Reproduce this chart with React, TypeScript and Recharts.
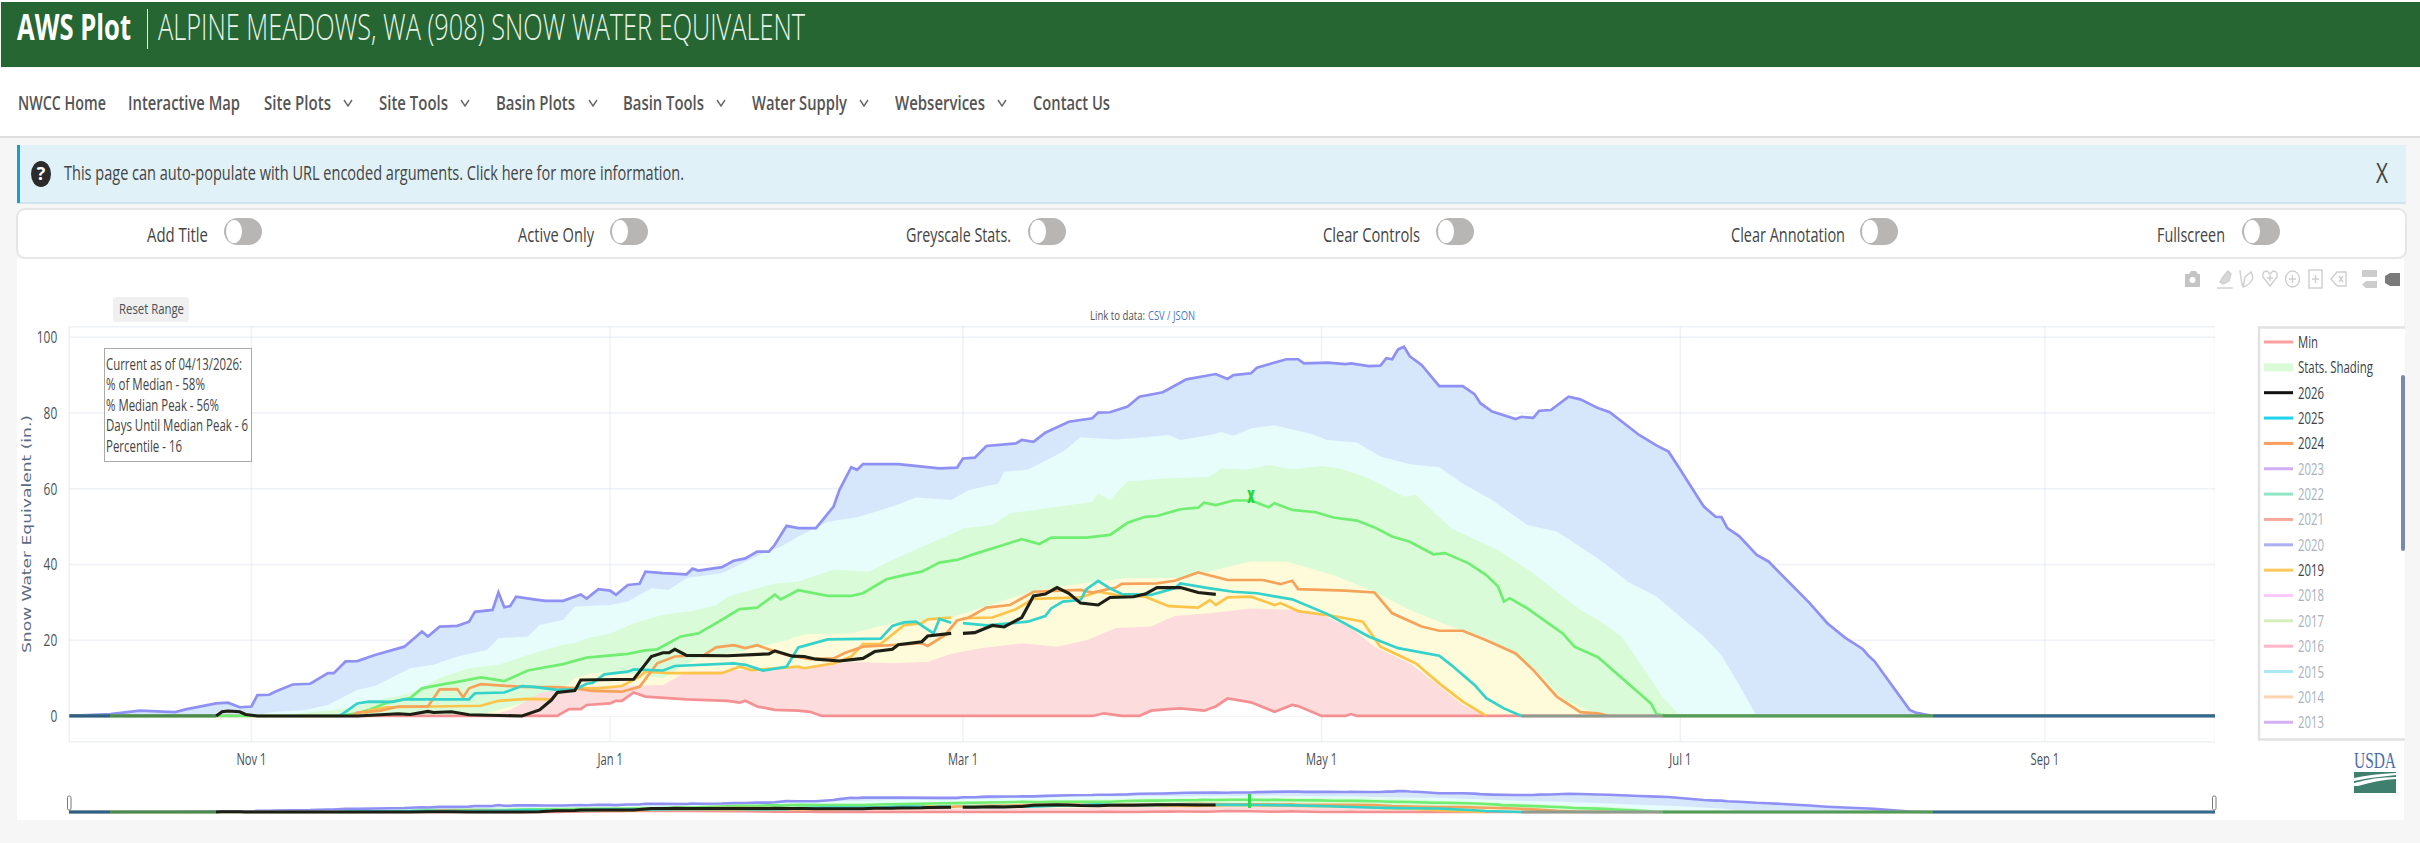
import React from "react";
import { ComposedChart, Area, Line, XAxis, YAxis, CartesianGrid, ReferenceDot } from "recharts";

type Pt = [number, number | null];

// day = days since Oct 1 (leap-year water year), value = inches of SWE
const xTickDays = [31, 92, 152, 213, 274, 336];
const xTickLabels = ["Nov 1", "Jan 1", "Mar 1", "May 1", "Jul 1", "Sep 1"];
const yTicks = [0, 20, 40, 60, 80, 100];

const maxSwe: Pt[] = [[0,0],[7,0.5],[12,1.4],[18,1],[20,1.8],[25,3.3],[27,3.5],[29,2.3],[31,2.5],[32,5.5],[34,5.6],[35,6.4],[38,8.3],[41,8.5],[44,11.3],[45,11.3],[47,14.4],[49,14.5],[52,16.1],[57,18.3],[60,22.3],[61,21],[63,23.6],[66,23.8],[68,24.9],[69,27.5],[72,28],[73,32.6],[74,28.7],[75,29],[76,31.5],[79,30.8],[81,30.4],[84,30.4],[87,32.1],[88,31],[90,33.5],[92,33.1],[93,32],[95,34.6],[97,34.9],[98,38.1],[101,37.7],[105,37.4],[106,38.9],[107,38.4],[111,39.3],[113,41],[115,41.6],[117,43.4],[119,43.4],[120,45.2],[122,50.2],[124,49.6],[127,49.6],[130,55.3],[131,59.7],[133,65.7],[134,65],[135,66.5],[141,66.5],[148,65.4],[151,65.6],[152,68],[154,68.2],[156,71.3],[161,72],[162,72.9],[164,72.4],[166,74.8],[170,77.7],[174,78.6],[175,80.1],[177,80.2],[180,81.7],[182,84.3],[186,85.5],[190,88.9],[195,90.3],[197,89],[198,90],[201,90.5],[202,92],[207,94.2],[209,94.2],[210,93.1],[214,93.3],[217,92.9],[218,93.1],[221,92.4],[223,92.5],[224,94.5],[225,94.2],[226,96.8],[227,97.5],[228,95],[230,92.7],[233,87.1],[237,87.1],[239,85],[240,82.6],[242,80.4],[246,78.4],[247,79],[249,78.7],[250,80.6],[252,80.8],[255,84.3],[257,83.6],[260,81.3],[262,80.2],[267,74.2],[270,71.4],[272,69.8],[274,65],[277,57.7],[278,55.3],[280,52.6],[281,52.5],[282,49.6],[284,47.5],[287,42.5],[289,40.8],[296,29.8],[299,24.5],[302,20.7],[305,17.7],[306,15.9],[307,14.5],[313,1.6],[314,0.9],[317,0]];
const pct90: Pt[] = [[31,0],[35,1.1],[40,1.6],[44,2.9],[49,6.9],[52,7.9],[58,12.6],[62,13.5],[66,15.7],[71,17.4],[73,20.5],[78,21],[80,24],[84,25.4],[86,28.9],[92,29.3],[95,30.2],[99,33.7],[102,33.3],[105,36.4],[111,37.7],[118,43],[121,44.7],[124,47.4],[129,51.3],[134,52.5],[140,55.3],[144,57.7],[150,57],[153,59.7],[158,61.4],[159,64.5],[163,65],[169,69.8],[172,73.6],[178,73],[183,73.6],[187,74.2],[189,72.9],[194,74.2],[196,75],[198,74],[201,76],[205,76.8],[211,74.6],[214,72.9],[219,72.2],[223,68.5],[228,66.5],[233,65.7],[237,61.4],[242,57],[248,50.4],[253,48.7],[260,41.6],[263,38],[265,35.5],[270,31.5],[274,26.2],[278,21],[281,16],[284,8.2],[287,0]];
const pct70: Pt[] = [[33,0],[37,0.3],[45,1.6],[49,2.5],[52,4],[58,6],[63,10],[68,12.6],[73,13.5],[78,16.1],[84,18.8],[86,19.2],[88,20.5],[92,21.8],[96,24.5],[101,26.7],[106,27.7],[110,29.3],[112,31.5],[117,33.7],[120,35],[124,35.5],[130,38.6],[136,38.1],[140,41.2],[145,44.7],[150,48],[152,49.6],[157,50.4],[160,53.5],[167,55],[174,56.6],[175,58.8],[177,57],[180,61.9],[183,62.3],[187,62.8],[194,63.2],[196,65.4],[200,65],[204,66.3],[208,65.1],[213,66],[216,65.4],[221,62.8],[227,57.9],[229,58.4],[235,49.6],[243,43.8],[249,37.7],[253,32.8],[257,28],[260,25.4],[264,21],[268,12.1],[271,5],[274,0]];
const pct30: Pt[] = [[66,0],[71,0.8],[78,3.8],[84,7.3],[86,10],[89,11.3],[92,11.7],[97,10.8],[101,10],[107,15.5],[114,17],[122,20],[125,21.6],[133,21.8],[140,24.5],[144,24.9],[150,26],[156,29],[164,33],[172,35],[180,36.4],[190,36.4],[195,38.6],[201,40.8],[207,40.8],[215,37.2],[222,32.8],[228,28],[235,23.6],[241,20.5],[246,15.7],[250,11.3],[254,4.7],[258,1.6],[260,0.7],[262,0]];
const pct10: Pt[] = [[71,0],[75,1.6],[77,3.3],[80,6],[85,7.7],[92,7.9],[101,8.2],[105,11.7],[112,12],[124,12.6],[133,14.3],[140,13.9],[146,14.3],[150,16.4],[155,17.9],[162,19.2],[168,18.3],[173,20],[178,23.2],[184,23.6],[188,26.4],[194,27.1],[201,28.4],[208,28],[213,26.7],[218,23.2],[222,18.3],[228,13.9],[232,9.1],[237,2.9],[241,0]];
const minSwe: Pt[] = [[0,0],[83,0],[85,1.8],[87,1.8],[88,2.9],[92,3.3],[93,4],[94,4],[96,6.2],[98,5.1],[105,4.4],[112,4],[114,3.5],[115,4],[117,2.5],[120,1.6],[124,1.4],[126,1.1],[128,0],[174,0],[176,0.7],[179,0],[182,0],[184,1.4],[187,1.8],[189,2],[193,1.4],[195,2.5],[197,4.6],[201,3.6],[205,1.1],[208,2.9],[209,2.6],[213,0],[217,0],[218,0.5],[219,0],[365,0]];
const medianSwe: Pt[] = [[0,0],[46,0],[49,0.7],[51,1.6],[54,3.5],[58,4.7],[60,7.3],[63,8.2],[66,9],[70,10.2],[74,9.2],[78,12],[84,13.7],[88,15.4],[95,16.4],[98,17.3],[100,17.6],[104,21],[107,21.8],[109,23.6],[111,25.4],[114,28.2],[117,28.6],[120,32],[121,30.8],[124,33.2],[129,31.7],[133,31.7],[135,32.4],[139,36.1],[142,37.2],[145,38.1],[148,40.5],[151,41.2],[154,42.8],[159,45.2],[162,46.7],[165,45.4],[167,47.1],[173,47.1],[177,47.8],[180,51],[183,52.6],[185,52.8],[189,54.6],[192,55],[193,56.3],[195,55.7],[198,56.9],[201,56.9],[204,55.1],[205,56.2],[208,54.4],[212,53.8],[215,52.4],[219,51.6],[222,49.8],[225,47.4],[228,46],[232,42.7],[234,43],[238,40.3],[241,37.2],[243,34.2],[244,30.2],[245,31.1],[248,28.4],[252,24],[254,21.8],[256,18.3],[260,15.5],[269,3.3],[270,0.4],[272,0]];
const year2026: Pt[] = [[25,0],[26,1.1],[27,1.3],[29,1.1],[30,0.4],[32,0],[49,0],[56,0.6],[58,0.4],[61,1.2],[62,0.9],[65,1.1],[68,0.3],[77,0],[80,1.6],[82,4.2],[83,6.2],[86,6.7],[87,9.5],[96,9.7],[97,11.7],[99,15.7],[101,16.7],[102,16.7],[103,17.6],[105,16],[112,15.9],[119,16.4],[120,17.2],[123,15.8],[125,15.7],[127,15],[131,14.5],[135,15.2],[137,17],[140,17.6],[141,18.8],[145,19.6],[146,21.1],[150,21.8],[151,null],[152,21.8],[154,22],[157,23.9],[159,23.5],[162,26],[164,31.7],[166,32.2],[168,33.9],[170,32.4],[172,29.8],[175,29.3],[177,31.3],[181,31.5],[183,32.2],[185,33.9],[189,33.9],[192,32.6],[195,32.1]];
const year2025: Pt[] = [[46,0],[47,1.1],[49,3.3],[51,3.8],[55,3.7],[57,4.4],[68,4.4],[69,6],[74,6.2],[77,7.9],[79,7.7],[83,6.9],[86,7],[88,8.5],[89,8.7],[91,11],[95,11.7],[96,12.3],[101,12],[103,13.2],[113,13.9],[115,13.5],[118,12],[122,13],[124,18.1],[125,18.5],[129,20.2],[138,20.4],[140,23.8],[142,24.7],[144,24.9],[147,21.8],[148,25.6],[150,24.6],[151,null],[152,24.5],[156,23.9],[163,24.9],[166,26.4],[167,28.4],[169,30.2],[172,30.6],[173,33.5],[175,35.7],[177,33.7],[179,32.2],[184,32],[188,33.7],[189,35],[194,33.7],[198,32.8],[202,32.4],[208,30.8],[214,26.9],[221,21],[226,17.9],[233,15.9],[235,13.5],[239,8.2],[241,4.7],[244,2],[247,0]];
const year2024: Pt[] = [[48,0],[49,0.9],[53,1.4],[56,2.5],[61,2.5],[63,7],[66,7.1],[67,4.9],[68,7.3],[70,8.4],[77,7.7],[83,7.6],[86,7.3],[89,6.6],[94,6.4],[97,7.7],[100,13.9],[103,15.7],[108,16.1],[110,18.1],[113,18.7],[115,17.9],[117,18.7],[120,17],[122,16.1],[126,15],[130,15.2],[132,16.7],[135,18.3],[141,18.8],[145,19.2],[146,18.5],[149,21.4],[151,25.2],[153,26],[156,28.6],[160,29.3],[164,32.8],[172,33.3],[174,32.6],[178,33.9],[179,34.9],[185,35],[188,35.7],[192,37.9],[197,35.9],[203,35.9],[206,34.8],[208,35.7],[209,33.5],[217,33.1],[222,32.6],[225,27.1],[230,23.6],[233,22.5],[237,22.5],[241,20],[246,16.5],[249,12.1],[253,5.1],[257,1],[260,0.7],[262,0]];
const year2019: Pt[] = [[50,0],[51,1.4],[54,2.3],[70,2.7],[73,4],[78,4.5],[82,4.4],[84,7.3],[90,7.3],[94,7.9],[97,10.4],[98,11.7],[102,11.3],[111,11.3],[114,13],[116,12.1],[124,13],[125,12.6],[130,13.9],[133,15.7],[135,19],[138,19],[142,24],[145,24.5],[146,25.5],[150,26],[151,null],[152,25.8],[157,26],[161,28.2],[164,30.9],[172,31.3],[175,32.8],[178,32],[183,31.5],[187,29],[192,28.6],[194,30.6],[195,29.3],[197,31.3],[201,31.5],[205,29.3],[206,29.8],[209,27.7],[215,26.4],[220,24.9],[223,18.3],[226,16.1],[229,13.9],[233,8.6],[237,3.8],[241,0]];
// stretches where every year sits on zero, so the overlaid lines read dark
const zeroEarly: Pt[] = [[0,0],[7,0]];
const zeroAutumn: Pt[] = [[7,0],[25,0]];
const zeroMelt: Pt[] = [[247,0],[271,0]];
const zeroSummer: Pt[] = [[271,0],[317,0]];
const zeroLate: Pt[] = [[317,0],[365,0]];
const medianPeak: [number, number] = [201, 57.9];

const annotation = [
  ["Current as of 04/13/2026:", 136],
  ["% of Median - 58%", 99],
  ["% Median Peak - 56%", 113],
  ["Days Until Median Peak - 6", 142],
  ["Percentile - 16", 76],
];
const legendNames = ["Min","Stats. Shading","2026","2025","2024","2023","2022","2021","2020","2019","2018","2017","2016","2015","2014","2013"];
const legendColors = ["#ff9f9f","#d9fbd7","#111111","#1fd3ee","#ff9d5c","#d2aef8","#90e6c6","#f7a99c","#adb0f0","#ffc95c","#fbcafb","#d6efba","#ffb6ca","#a8e9f5","#ffd2b0","#d2b2f2"];
const legendActive = [true,true,true,true,true,false,false,false,false,true,false,false,false,false,false,false];
const legendWidths = [20,75,26,26,26,26,26,26,26,26,26,26,26,26,26,26];
const navItems = [["NWCC Home",18,88,0],["Interactive Map",128,112,0],["Site Plots",264,67,348],["Site Tools",379,69,465],["Basin Plots",496,79,593],["Basin Tools",623,81,721],["Water Supply",752,95,864],["Webservices",895,90,1002],["Contact Us",1033,77,0]];
const controls = [["Add Title",147,61,224],["Active Only",518,76,610],["Greyscale Stats.",906,105,1028],["Clear Controls",1323,97,1436],["Clear Annotation",1731,114,1860],["Fullscreen",2157,68,2242]];

const UI = "'Open Sans', sans-serif";
const toData = (pts: Pt[]) => pts.map(([day, value]) => ({ day, value }));

// the page was squeezed sideways, so each label is scaled to its measured width
function Txt({ x, y, w, size, fill = "#444", weight = 400, family = UI, children }: any) {
  const natural = String(children).length * size * 0.56;
  const sx = Math.min(1, w / natural);
  return (
    <g transform={`translate(${x},${y}) scale(${sx},1)`}>
      <text dy=".35em" fontSize={size} fontWeight={weight} fontFamily={family} fill={fill} textLength={w / sx} lengthAdjust="spacingAndGlyphs">
        {children}
      </text>
    </g>
  );
}

function YTick({ x, y, payload }: any) {
  return (
    <g transform={`translate(${x - 4},${y}) scale(0.7,1)`}>
      <text dy=".35em" textAnchor="end" fontSize={17} fontFamily={UI} fill="#4a4f57">{payload.value}</text>
    </g>
  );
}

function XTick({ x, y, payload }: any) {
  return (
    <g transform={`translate(${x},${y + 10}) scale(0.7,1)`}>
      <text dy=".35em" textAnchor="middle" fontSize={16} fontFamily={UI} fill="#4a4f57">{xTickLabels[xTickDays.indexOf(payload.value)]}</text>
    </g>
  );
}

function bands() {
  const layers: [Pt[], string][] = [
    [maxSwe, "#d6e6fb"],
    [pct90, "#e6fdfc"],
    [pct70, "#d9fbd7"],
    [pct30, "#fdfbd9"],
    [pct10, "#fcdcdd"],
    [minSwe, "#ffffff"],
  ];
  return layers.map(([pts, fill], i) => (
    <Area key={"band" + i} data={toData(pts)} dataKey="value" type="linear" fill={fill} fillOpacity={1} stroke="none" dot={false} activeDot={false} isAnimationActive={false} />
  ));
}

function lines(w: number) {
  const rows: [Pt[], string, number][] = [
    [maxSwe, "#8f90f3", w],
    [minSwe, "#f59092", w],
    [medianSwe, "#6fee72", w],
    [zeroAutumn, "#4c8a4e", w + 0.6],
    [year2019, "#fdc44a", w],
    [year2024, "#f5a35a", w],
    [year2025, "#33d2ca", w],
    [zeroMelt, "#8d9c8f", w + 0.4],
    [zeroSummer, "#4f9e57", w + 0.6],
    [zeroEarly, "#2f5f86", w + 0.6],
    [zeroLate, "#2f6b8c", w + 0.6],
    [year2026, "#1d1f14", w + 0.4],
  ];
  return rows.map(([pts, stroke, width], i) => (
    <Line key={"line" + i} data={toData(pts)} dataKey="value" type="linear" stroke={stroke} strokeWidth={width} dot={false} activeDot={false} isAnimationActive={false} />
  ));
}

function Modebar() {
  return (
    <g>
      <path d="M2185 274 h4 l2 -3 h5 l2 3 h2 v13 h-15 z" fill="#c4c4c4" />
      <circle cx={2192.5} cy={280} r={3} fill="#fff" />
      <g fill="none" stroke="#cfcfcf" strokeWidth={1.4}>
        <path d="M2220 282 l3 -5 l5 -6 l3 3 l-2 7 l-6 3 z" fill="#d8d8d8" />
        <path d="M2217 288 h16" />
        <path d="M2240 270 q1 12 3 17 q9 -3 10 -10 l-2 -5 l-6 5 l-2 10" />
        <path d="M2270 286 l-7 -9 q-1 -6 4 -6 l3 3 l3 -3 q5 0 4 6 z" />
        <path d="M2270 275 v6 M2267 278 h6" />
        <ellipse cx={2292.5} cy={279} rx={7} ry={8} />
        <path d="M2292.5 275 v8 M2289 279 h7" />
        <rect x={2309} y={270} width={13} height={18} />
        <path d="M2315.5 275 v8 M2312 279 h7" />
        <path d="M2331 279 l6 -7 h9 v14 h-9 z" />
        <path d="M2339 276 l4 6 M2343 276 l-4 6" />
      </g>
      <path d="M2362 270 h15 v7 h-15 z M2366 281 h11 v7 h-11 l-4 -3.5 z" fill="#cccccc" />
      <path d="M2390 273 h10 v13 h-10 l-5 -3 v-7 z" fill="#7b7b7b" />
    </g>
  );
}

export default function App() {
  return (
    <div style={{ position: "absolute", left: 0, top: 0, width: 2420, height: 843, overflow: "hidden", background: "#f6f6f6" }}>
      <svg width={2420} height={843} style={{ position: "absolute", left: 0, top: 0 }}>
        <rect x={0} y={0} width={2420} height={2} fill="#fff" />
        <rect x={1} y={2} width={2419} height={65} fill="#266632" />
        <rect x={0} y={68} width={2420} height={69} fill="#fff" />
        <rect x={0} y={136} width={2420} height={2} fill="#dedede" />
        <Txt x={17} y={27} w={114} size={36} fill="#fff" weight={700}>AWS Plot</Txt>
        <rect x={147} y={9} width={1} height={40} fill="#e8efe8" />
        <Txt x={158} y={27} w={647} size={36} fill="#e9f3ea" weight={300}>ALPINE MEADOWS, WA (908) SNOW WATER EQUIVALENT</Txt>

        {navItems.map(([label, x, w, arrow]: any) => (
          <g key={label}>
            <Txt x={x} y={103} w={w} size={20} fill="#555" weight={600}>{label}</Txt>
            {arrow > 0 && <polyline points={`${arrow - 4},100 ${arrow},106 ${arrow + 4},100`} fill="none" stroke="#666" strokeWidth={1.4} />}
          </g>
        ))}

        <rect x={17} y={145} width={2389} height={58} fill="#e0f1f8" />
        <rect x={17} y={202} width={2389} height={2} fill="#cfe5ee" />
        <rect x={17} y={145} width={3} height={58} fill="#17a0cc" />
        <ellipse cx={41} cy={174} rx={10} ry={13} fill="#2b2b2b" />
        <text x={41} y={174} dy=".35em" textAnchor="middle" fontSize={18} fontWeight={700} fontFamily={UI} fill="#fff">?</text>
        <Txt x={64} y={173} w={620} size={20} fill="#444">This page can auto-populate with URL encoded arguments. Click here for more information.</Txt>
        <Txt x={2376} y={173} w={12} size={28} fill="#444">X</Txt>

        <rect x={17} y={209} width={2389} height={49} rx={8} fill="#fff" stroke="#e6e6e6" strokeWidth={2} />
        {controls.map(([label, x, w, tx]: any) => (
          <g key={label}>
            <Txt x={x} y={235} w={w} size={20} fill="#444">{label}</Txt>
            <rect x={tx} y={218} width={38} height={27} rx={13.5} fill="#b7b6b4" />
            <ellipse cx={tx + 10} cy={231.5} rx={8} ry={11.5} fill="#fff" />
          </g>
        ))}

        <rect x={17} y={259} width={2387} height={561} fill="#fff" />
        <Modebar />
        <rect x={113} y={297} width={76} height={25} rx={3} fill="#f0f0f0" />
        <Txt x={119} y={309} w={65} size={15} fill="#4a4f57">Reset Range</Txt>
        <Txt x={1090} y={315} w={55} size={13} fill="#555">Link to data:</Txt>
        <Txt x={1148} y={315} w={47} size={13} fill="#4a78c4">CSV / JSON</Txt>
        <g transform="translate(26.5,534) rotate(-90) scale(1,0.85)">
          <text textAnchor="middle" dy=".35em" fontSize={15} fontFamily="'DejaVu Sans', sans-serif" fill="#5b6b82" textLength={238} lengthAdjust="spacingAndGlyphs">Snow Water Equivalent (in.)</text>
        </g>
        <Txt x={2354} y={760} w={42} size={23} fill="#4a6cae" family="'Liberation Serif', serif">USDA</Txt>
        <rect x={2354} y={772} width={42} height={21} fill="#3f7f6e" />
        <path d="M2354 778 Q2372 774 2396 773 L2396 775 Q2374 777 2354 781 Z M2354 783 Q2374 777 2396 777 L2396 779 Q2378 780 2358 786 L2354 786 Z" fill="#ffffff" />
      </svg>

      <div style={{ position: "absolute", left: 0, top: 300 }}>
        <ComposedChart width={2215.4} height={480} margin={{ top: 26.7, right: 0, bottom: 0, left: 0 }}>
          {bands()}
          <CartesianGrid stroke="#c9d2ea" strokeOpacity={0.3} strokeWidth={1.5} />
          <XAxis type="number" dataKey="day" domain={[0, 365]} ticks={xTickDays} height={38.3} axisLine={false} tickLine={false} tick={<XTick />} interval={0} allowDataOverflow />
          <YAxis type="number" domain={[-6.8, 102.8]} ticks={yTicks} width={69.2} axisLine={false} tickLine={false} tick={<YTick />} interval={0} allowDataOverflow />
          {lines(2.7)}
          <ReferenceDot x={medianPeak[0]} y={medianPeak[1]} r={0} shape={(p: any) => (
            <g transform={`translate(${p.cx},${p.cy}) scale(0.7,1.3)`}>
              <text dy=".3em" textAnchor="middle" fontSize={17} fontWeight={800} fontFamily={UI} fill="#21d83a">x</text>
            </g>
          )} />
        </ComposedChart>
      </div>

      <div style={{ position: "absolute", left: 69.2, top: 785 }}>
        <ComposedChart width={2146.2} height={35} margin={{ top: 0, right: 0, bottom: 0, left: 0 }}>
          <XAxis hide type="number" dataKey="day" domain={[0, 365]} allowDataOverflow />
          <YAxis hide type="number" domain={[-37, 125]} allowDataOverflow />
          {bands()}
          {lines(2.6)}
        </ComposedChart>
      </div>

      <svg width={2420} height={843} style={{ position: "absolute", left: 0, top: 0, pointerEvents: "none" }}>
        <rect x={104.5} y={348.5} width={147} height={113} fill="#fff" stroke="#aaaaaa" strokeWidth={1} />
        {annotation.map(([line, w]: any, i) => (
          <Txt key={line} x={106} y={364 + i * 20.5} w={w} size={16} fill="#444">{line}</Txt>
        ))}

        <rect x={2258} y={327} width={147} height={413} fill="#fff" />
        <path d="M2405 327.5 H2259 V739.5 H2405" fill="none" stroke="#e2e2e2" strokeWidth={2.5} />
        {legendNames.map((name, i) => {
          const y = 342 + i * 25.35;
          return (
            <g key={name}>
              <rect x={2264} y={name === "Stats. Shading" ? y - 4 : y - 1.5} width={29} height={name === "Stats. Shading" ? 8 : 3} fill={legendColors[i]} />
              <Txt x={2298} y={y} w={legendWidths[i]} size={17} fill={legendActive[i] ? "#3a3f4a" : "#a9b1bd"}>{name}</Txt>
            </g>
          );
        })}
        <rect x={2401} y={375} width={4} height={176} rx={2} fill="#7a89ab" />

        <rect x={67.5} y={796} width={3.5} height={14} rx={1.5} fill="#fff" stroke="#777" strokeWidth={1} />
        <rect x={2212.5} y={796} width={3.5} height={14} rx={1.5} fill="#fff" stroke="#777" strokeWidth={1} />
        <rect x={1248} y={794} width={3} height={14} fill="#2bdc4a" />
      </svg>
    </div>
  );
}
